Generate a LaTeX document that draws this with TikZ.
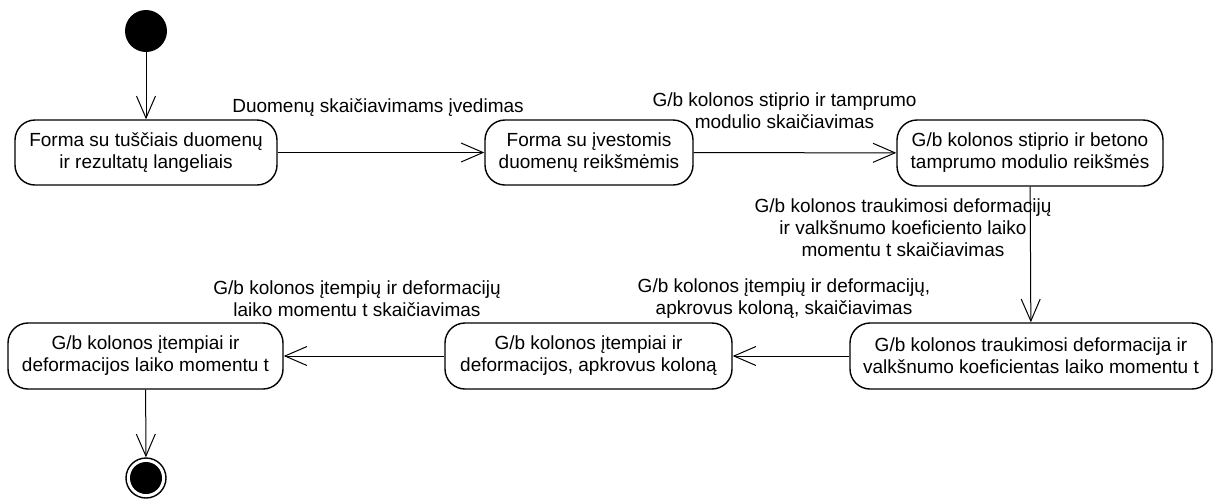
\documentclass[tikz,border=0pt]{standalone}
\usepackage{fontspec}
\setmainfont{Liberation Sans}
\usetikzlibrary{arrows.meta}
\begin{document}
\begin{tikzpicture}[x=1pt,y=-1pt,
  txt/.style={align=center, font=\fontsize{19}{22}\selectfont, inner sep=0pt},
  state/.style={txt, draw, line width=1.4pt, rounded corners=20pt},
  flow/.style={line width=1pt, -{Straight Barb[length=22pt,width=19pt,line width=1pt]}},
]
\useasboundingbox (0,0) rectangle (1221,499);

% initial and final pseudo-states
\node[circle, fill=black, minimum size=42pt, inner sep=0pt] (start) at (146,31) {};
\node[circle, draw, line width=1.4pt, fill=white, minimum size=40pt, inner sep=0pt] (end) at (146,478) {};
\fill (end.center) circle (16pt);

% states, upper row
\node[state, minimum width=262pt, minimum height=65pt] (b1) at (146,152.5)
  {Forma su tuščiais duomenų\\ir rezultatų langeliais};
\node[state, minimum width=208pt, minimum height=65pt] (b2) at (589,152.5)
  {Forma su įvestomis\\duomenų reikšmėmis};
\node[state, minimum width=266pt, minimum height=66pt] (b3) at (1030,153)
  {G/b kolonos stiprio ir betono\\tamprumo modulio reikšmės};

% states, lower row
\node[state, minimum width=362pt, minimum height=66pt] (b6) at (1031,356)
  {G/b kolonos traukimosi deformacija ir\\valkšnumo koeficientas laiko momentu t};
\node[state, minimum width=287pt, minimum height=66pt] (b5) at (588.5,356)
  {G/b kolonos įtempiai ir\\deformacijos, apkrovus koloną};
\node[state, minimum width=275pt, minimum height=66pt] (b4) at (145.5,356)
  {G/b kolonos įtempiai ir\\deformacijos laiko momentu t};

% transition labels
\node[txt] (l1) at (378,108) {Duomenų skaičiavimams įvedimas};
\node[txt] (l2) at (784.5,111) {G/b kolonos stiprio ir tamprumo\\modulio skaičiavimas};
\node[txt] (l3) at (903,227.5) {G/b kolonos traukimosi deformacijų\\ir valkšnumo koeficiento laiko\\momentu t skaičiavimas};
\node[txt] (l4) at (784,298.5) {G/b kolonos įtempių ir deformacijų,\\apkrovus koloną, skaičiavimas};
\node[txt] (l5) at (357,298.5) {G/b kolonos įtempių ir deformacijų\\laiko momentu t skaičiavimas};

% transitions
\draw[flow] (start) -- (b1);
\draw[flow] (b1) -- (b2);
\draw[flow] (b2) -- (b3);
\draw[flow] (b3) -- (b6);
\draw[flow] (b6) -- (b5);
\draw[flow] (b5) -- (b4);
\draw[flow] (b4) -- (end);
\end{tikzpicture}
\end{document}
